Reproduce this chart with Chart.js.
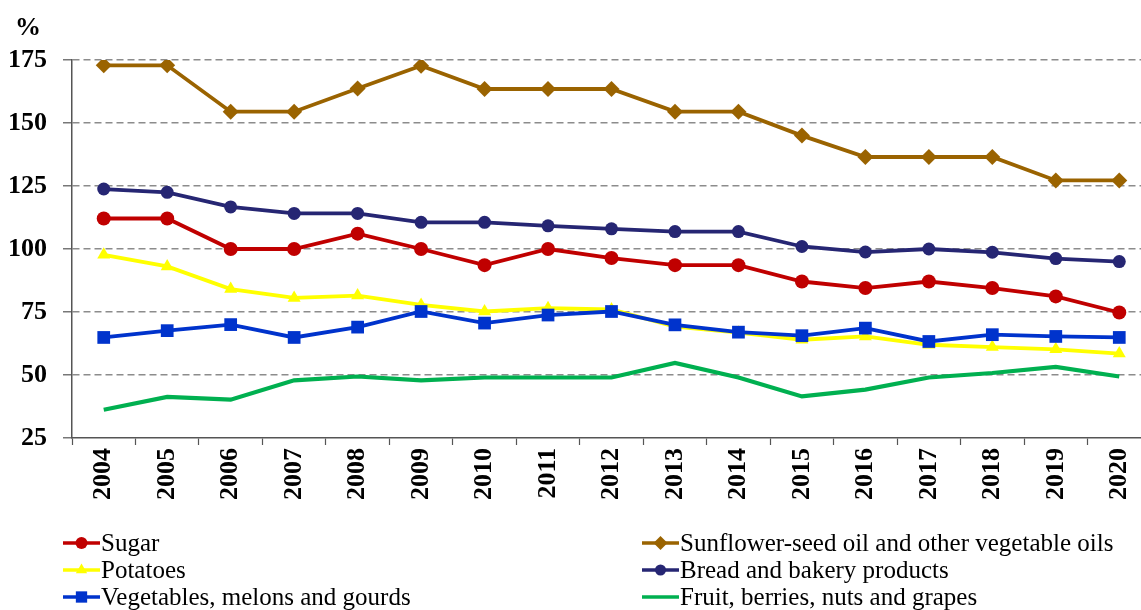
<!DOCTYPE html>
<html>
<head>
<meta charset="utf-8">
<script src="https://cdn.jsdelivr.net/npm/chart.js@4/dist/chart.umd.min.js"></script>
<style>
  html, body { margin: 0; padding: 0; background: #fff; overflow: hidden; }
  #wrap { width: 1160px; height: 610px; }
</style>
</head>
<body>
<div id="wrap"><canvas id="c" width="1160" height="610"></canvas></div>
<script>
// Years on the category axis
const years = ['2004','2005','2006','2007','2008','2009','2010','2011','2012',
               '2013','2014','2015','2016','2017','2018','2019','2020'];

// Series values, %
const sugar      = [112.1,112.1,100.0,100.0,106.1,100.0,93.6,100.0,96.4,93.6,93.6,87.1,84.5,87.1,84.5,81.2,74.8];
const oils       = [172.9,172.9,154.5,154.5,163.7,172.7,163.5,163.5,163.5,154.5,154.5,145.0,136.5,136.5,136.5,127.2,127.2];
const bread      = [123.8,122.5,116.7,114.1,114.1,110.6,110.6,109.2,108.0,106.9,106.9,101.0,98.8,100.0,98.7,96.2,95.0];
const potatoes   = [97.7,93.1,84.1,80.6,81.5,77.8,75.2,76.5,76.0,69.2,66.8,64.0,65.3,62.0,61.1,60.2,58.5];
const vegetables = [64.9,67.6,70.0,64.9,69.0,75.2,70.6,73.8,75.2,69.9,67.0,65.6,68.6,63.3,66.0,65.3,64.9];
const fruit      = [36.2,41.3,40.2,47.9,49.4,47.9,49.0,49.0,49.0,54.8,49.0,41.5,44.2,49.0,50.8,53.2,49.4];

// Y axis range and step
const yMin = 25, yMax = 175, yStep = 25;

const FONT = "'Liberation Serif', 'Times New Roman', serif";
const AXIS = '#555555';
const GRID = '#8c8c8c';

function series(label, data, color, style, radius, width, legendSlot) {
  return {
    label, data,
    borderColor: color, backgroundColor: color,
    pointBackgroundColor: color, pointBorderColor: color,
    pointStyle: style, pointRadius: radius, pointHoverRadius: radius,
    pointBorderWidth: 0,
    borderWidth: width, tension: 0, fill: false,
    legendSlot
  };
}

// First dataset is drawn on top
const datasets = [
  series('Sugar', sugar, '#c00000', 'circle', 7, 3.8, [0, 0]),
  series('Sunflower-seed oil and other vegetable oils', oils, '#9a6300', 'rectRot', 8, 3.8, [1, 0]),
  series('Bread and bakery products', bread, '#262673', 'circle', 6.5, 3.8, [1, 1]),
  series('Vegetables, melons and gourds', vegetables, '#0033cc', 'rect', 9, 3.8, [0, 2]),
  series('Potatoes', potatoes, '#ffff00', 'triangle', 7.5, 3.8, [0, 1]),
  series('Fruit, berries, nuts and grapes', fruit, '#00b050', 'circle', 0, 4.2, [1, 2])
];

// Two-column legend below the plot plus the unit label above the y axis
const extras = {
  id: 'extras',
  afterDraw(chart) {
    const ctx = chart.ctx;
    const area = chart.chartArea;
    ctx.save();
    // unit label
    ctx.fillStyle = '#000';
    ctx.font = 'bold 26px ' + FONT;
    ctx.textAlign = 'center';
    ctx.textBaseline = 'middle';
    ctx.fillText('%', 28, 28);

    // legend
    const colX = [area.left - 9, 642];
    const rowY = [543, 570, 597];
    const lineLen = 37;
    ctx.font = '25px ' + FONT;
    ctx.textAlign = 'left';
    chart.data.datasets.forEach(ds => {
      const [c, r] = ds.legendSlot;
      const x = colX[c], y = rowY[r];
      ctx.strokeStyle = ds.borderColor;
      ctx.lineWidth = 3.5;
      ctx.beginPath();
      ctx.moveTo(x, y);
      ctx.lineTo(x + lineLen, y);
      ctx.stroke();
      if (ds.pointRadius > 0) {
        ctx.fillStyle = ds.borderColor;
        Chart.helpers.drawPoint(ctx, {
          pointStyle: ds.pointStyle,
          radius: ds.pointRadius - 1,
          rotation: 0, borderWidth: 0
        }, x + lineLen / 2, y);
      }
      ctx.fillStyle = '#000';
      ctx.fillText(ds.label, x + lineLen + 1, y + 1);
    });
    ctx.restore();
  }
};

new Chart(document.getElementById('c'), {
  type: 'line',
  data: { labels: years, datasets },
  plugins: [extras],
  options: {
    responsive: false,
    animation: false,
    events: [],
    layout: { padding: { top: 60, right: 0, bottom: 0, left: 0 } },
    plugins: { legend: { display: false }, tooltip: { enabled: false } },
    scales: {
      x: {
        type: 'category',
        offset: true,
        afterFit(scale) { scale.height = 172; },
        grid: {
          offset: true,
          drawOnChartArea: false,
          drawTicks: true,
          tickLength: 7,
          tickColor: AXIS,
          tickWidth: 1.2,
          color: AXIS
        },
        border: { display: true, color: AXIS, width: 1.5 },
        ticks: {
          autoSkip: false,
          minRotation: 90, maxRotation: 90,
          padding: 3,
          color: '#000',
          font: { family: FONT, size: 26, weight: 'bold' }
        }
      },
      y: {
        min: yMin, max: yMax,
        afterFit(scale) { scale.width = 72; },
        grid: {
          drawTicks: true,
          tickLength: 9,
          tickColor: AXIS,
          tickWidth: 1.2,
          tickBorderDash: [],
          lineWidth: 1.6,
          color: ctx => (ctx.tick && ctx.tick.value === yMin) ? 'rgba(0,0,0,0)' : GRID
        },
        border: { display: true, color: AXIS, width: 1.5, dash: [7, 4] },
        ticks: {
          stepSize: yStep,
          padding: 16,
          color: '#000',
          font: { family: FONT, size: 26, weight: 'bold' }
        }
      }
    }
  }
});
</script>
</body>
</html>
